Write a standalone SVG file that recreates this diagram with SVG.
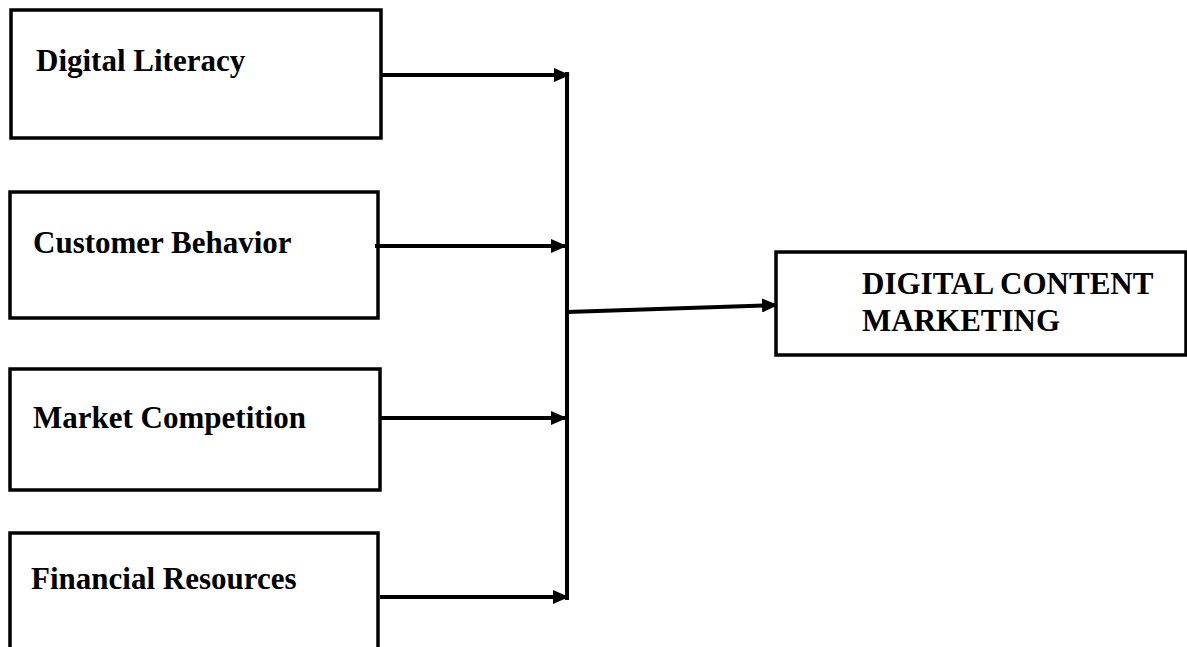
<svg xmlns="http://www.w3.org/2000/svg" width="1187" height="647" viewBox="0 0 1187 647">
<style>
.box{fill:#fff;stroke:#000;stroke-width:3.5}
.lbl{font-family:"Liberation Serif","Times New Roman",serif;font-weight:bold;font-size:31px;fill:#000}
.con{stroke:#000;stroke-width:4;fill:none}
</style>
<defs>
<marker id="ah" markerUnits="userSpaceOnUse" markerWidth="16" markerHeight="14" refX="15" refY="7" orient="auto">
<path d="M0,0 L16,7 L0,14 Z" fill="#000"/>
</marker>
</defs>
<rect width="1187" height="647" fill="#fff"/>
<g id="n1"><rect class="box" x="11" y="10" width="370" height="128"/><text class="lbl" x="36" y="71">Digital Literacy</text></g>
<g id="n2"><rect class="box" x="10" y="192" width="368" height="126"/><text class="lbl" x="33" y="253">Customer Behavior</text></g>
<g id="n3"><rect class="box" x="10" y="369" width="370" height="121"/><text class="lbl" x="33" y="428">Market Competition</text></g>
<g id="n4"><rect class="box" x="10" y="533" width="368" height="130"/><text class="lbl" x="31" y="589">Financial Resources</text></g>
<g id="n5"><rect class="box" x="776" y="252" width="410" height="103"/><text class="lbl" x="862" y="294">DIGITAL CONTENT</text><text class="lbl" x="862" y="331">MARKETING</text></g>
<g id="connectors">
<line class="con" x1="567" y1="72" x2="567" y2="600"/>
<line class="con" x1="381" y1="75" x2="569" y2="75" marker-end="url(#ah)"/>
<line class="con" x1="375" y1="246" x2="566" y2="246" marker-end="url(#ah)"/>
<line class="con" x1="380" y1="418" x2="566" y2="418" marker-end="url(#ah)"/>
<line class="con" x1="380" y1="597" x2="568" y2="597" marker-end="url(#ah)"/>
<line class="con" x1="567" y1="312" x2="777" y2="305" marker-end="url(#ah)"/>
</g>
</svg>
